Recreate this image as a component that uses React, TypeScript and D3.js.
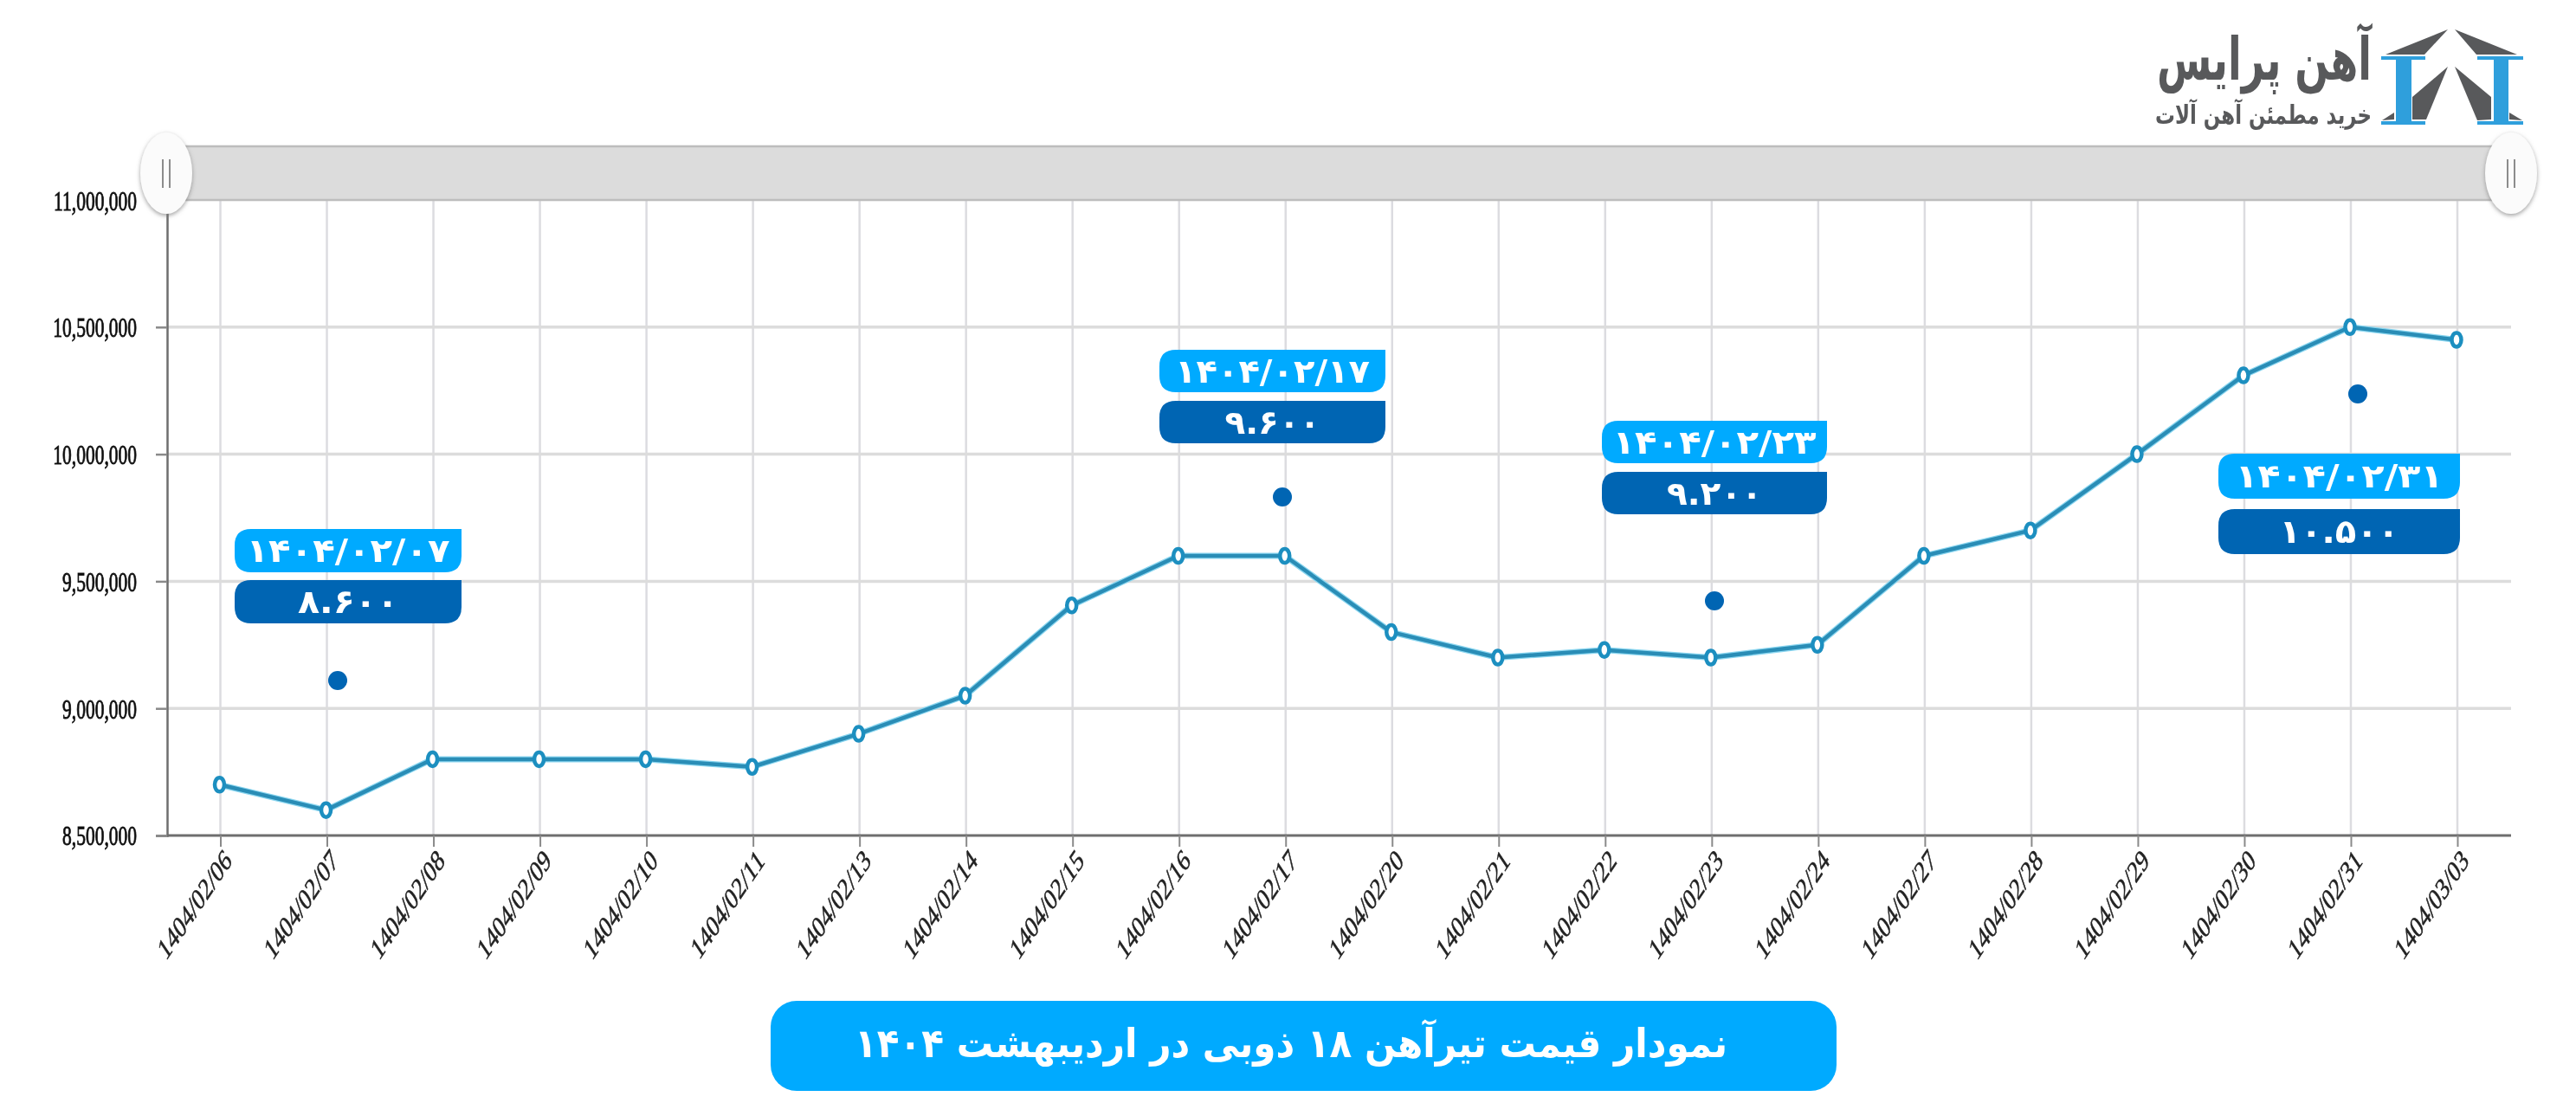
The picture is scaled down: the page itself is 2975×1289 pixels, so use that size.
import { useEffect, useRef } from 'react';
import * as d3 from 'd3';

const dates = [
  '1404/02/06', '1404/02/07', '1404/02/08', '1404/02/09', '1404/02/10', '1404/02/11',
  '1404/02/13', '1404/02/14', '1404/02/15', '1404/02/16', '1404/02/17', '1404/02/20',
  '1404/02/21', '1404/02/22', '1404/02/23', '1404/02/24', '1404/02/27', '1404/02/28',
  '1404/02/29', '1404/02/30', '1404/02/31', '1404/03/03',
];
const prices = [
  8700000, 8600000, 8800000, 8800000, 8800000, 8770000,
  8900000, 9050000, 9405000, 9600000, 9600000, 9300000,
  9200000, 9230000, 9200000, 9250000, 9600000, 9700000,
  10000000, 10310000, 10500000, 10450000,
];
const priceTicks = [8500000, 9000000, 9500000, 10000000, 10500000, 11000000];

const calloutDates = ['۱۴۰۴/۰۲/۰۷', '۱۴۰۴/۰۲/۱۷', '۱۴۰۴/۰۲/۲۳', '۱۴۰۴/۰۲/۳۱'];
const calloutPrices = ['۸.۶۰۰', '۹.۶۰۰', '۹.۲۰۰', '۱۰.۵۰۰'];

const title = 'نمودار قیمت تیرآهن ۱۸ ذوبی در اردیبهشت ۱۴۰۴';
const brandName = 'آهن پرایس';
const brandTagline = 'خرید مطمئن آهن آلات';

// layout of the annotation boxes
const calloutLayout = [
  { x: 271, w: 262, top1: 611, top2: 670, h: 50, dotX: 390, dotY: 786, textW: 235 },
  { x: 1339, w: 261, top1: 404, top2: 463, h: 49, dotX: 1481, dotY: 574, textW: 225 },
  { x: 1850, w: 260, top1: 486, top2: 545, h: 49, dotX: 1980, dotY: 694, textW: 235 },
  { x: 2562, w: 279, top1: 524, top2: 588, h: 52, dotX: 2723, dotY: 455, textW: 240 },
];
const calloutValueW = [116, 110, 110, 138];

const W = 2975;
const H = 1289;
const SANS = '"DejaVu Sans", sans-serif';
const SERIF = '"Liberation Serif", serif';
const LIGHT = '#00aaff';
const DARK = '#0065b3';
const LOGO_GRAY = '#58595b';
const LOGO_BLUE = '#2f9fdc';

function calloutPath(x: number, y: number, w: number, h: number, r: number) {
  return `M${x + r},${y}H${x + w}V${y + h - r}Q${x + w},${y + h} ${x + w - r},${y + h}H${x + r}Q${x},${y + h} ${x},${y + h - r}V${y + r}Q${x},${y} ${x + r},${y}Z`;
}

export default function App() {
  const svgRef = useRef<SVGSVGElement>(null);

  useEffect(() => {
    if (!svgRef.current) return;
    document.body.style.margin = '0';

    const svg = d3.select(svgRef.current);
    svg.selectAll('*').remove();

    const defs = svg.append('defs');
    const shadow = defs.append('filter').attr('id', 'handleShadow')
      .attr('x', '-30%').attr('y', '-30%').attr('width', '160%').attr('height', '160%');
    shadow.append('feDropShadow')
      .attr('dx', 0).attr('dy', 2).attr('stdDeviation', 2.5)
      .attr('flood-color', '#777').attr('flood-opacity', 0.7);
    defs.append('filter').attr('id', 'soft')
      .attr('x', '-2%').attr('y', '-2%').attr('width', '104%').attr('height', '104%')
      .append('feGaussianBlur').attr('stdDeviation', 0.7);

    const left = 193;
    const right = 2900;
    const plotTop = 231;
    const plotBottom = 965;

    const x = d3.scalePoint<string>().domain(dates).range([254.5, 2838]);
    const y = d3.scaleLinear().domain([8500000, 11000000]).range([plotBottom, plotTop]);

    const chart = svg.append('g').attr('filter', 'url(#soft)');

    // grid
    chart.append('g').selectAll('line').data(dates).join('line')
      .attr('x1', d => x(d)!).attr('x2', d => x(d)!)
      .attr('y1', plotTop).attr('y2', plotBottom)
      .attr('stroke', '#dcdce0').attr('stroke-width', 2.5);
    chart.append('g').selectAll('line').data(priceTicks.slice(1, -1)).join('line')
      .attr('x1', left).attr('x2', right)
      .attr('y1', d => y(d)).attr('y2', d => y(d))
      .attr('stroke', '#dcdcdc').attr('stroke-width', 3.5);

    // y axis
    const yAxis = chart.append('g')
      .attr('transform', `translate(${left},0)`)
      .call(d3.axisLeft(y).tickValues(priceTicks).tickFormat(d3.format(',')).tickSize(13).tickPadding(0));
    yAxis.select('.domain').attr('stroke', '#6e6e6e').attr('stroke-width', 2.5);
    yAxis.selectAll('.tick line').attr('stroke', '#8a8a8a').attr('stroke-width', 2.5);
    yAxis.selectAll<SVGTextElement, number>('text')
      .attr('x', null).attr('dy', null)
      .attr('transform', 'translate(-35,11) scale(1,1.42)')
      .attr('text-anchor', 'end')
      .style('font-family', SERIF)
      .style('font-size', '21.5px')
      .style('fill', '#111')
      .style('stroke', '#111')
      .style('stroke-width', 0.6);

    // x axis
    const xAxis = chart.append('g')
      .attr('transform', `translate(0,${plotBottom})`)
      .call(d3.axisBottom(x).tickSize(13));
    xAxis.select('.domain').attr('stroke', '#6e6e6e').attr('stroke-width', 3)
      .attr('d', `M${left},0H${right}`);
    xAxis.selectAll('.tick line').attr('stroke', '#8a8a8a').attr('stroke-width', 2);
    xAxis.selectAll<SVGTextElement, string>('text')
      .attr('y', null).attr('dy', null)
      .attr('transform', 'translate(14,31) scale(1,1.48) rotate(-45)')
      .attr('text-anchor', 'end')
      .style('font-family', SERIF)
      .style('font-size', '24px')
      .style('fill', '#222')
      .style('stroke', '#222')
      .style('stroke-width', 0.4);

    // range selector
    chart.append('rect')
      .attr('x', 205).attr('y', 169).attr('width', 2680).attr('height', 62)
      .attr('fill', '#dcdcdc').attr('stroke', '#bdbdbd').attr('stroke-width', 2.5);
    [192, 2900].forEach(cx => {
      chart.append('ellipse')
        .attr('cx', cx).attr('cy', 200).attr('rx', 30).attr('ry', 47)
        .attr('fill', '#fbfbfb').attr('filter', 'url(#handleShadow)');
      [-4, 4].forEach(off => {
        chart.append('line')
          .attr('x1', cx + off).attr('x2', cx + off)
          .attr('y1', 184).attr('y2', 217)
          .attr('stroke', '#8c8c8c').attr('stroke-width', 2);
      });
    });

    // price line
    const line = d3.line<number>().x((_, i) => x(dates[i])! - 1).y(d => y(d));
    chart.append('path').datum(prices)
      .attr('d', line)
      .attr('fill', 'none')
      .attr('stroke', '#8ad6f0')
      .attr('stroke-width', 7)
      .attr('stroke-linejoin', 'round');
    chart.append('path').datum(prices)
      .attr('d', line)
      .attr('fill', 'none')
      .attr('stroke', '#2b8db6')
      .attr('stroke-width', 4.5)
      .attr('stroke-linejoin', 'round');
    chart.append('g').selectAll('ellipse').data(prices).join('ellipse')
      .attr('cx', (_, i) => x(dates[i])! - 1)
      .attr('cy', d => y(d))
      .attr('rx', 5.5)
      .attr('ry', 8)
      .attr('fill', '#fff')
      .attr('stroke', '#1f8fc0')
      .attr('stroke-width', 4.5);

    // callouts
    calloutLayout.forEach((c, i) => {
      const g = svg.append('g');
      g.append('path').attr('d', calloutPath(c.x, c.top1, c.w, c.h, 19)).attr('fill', LIGHT);
      g.append('path').attr('d', calloutPath(c.x, c.top2, c.w, c.h, 19)).attr('fill', DARK);
      g.append('text')
        .attr('x', c.x + c.w / 2).attr('y', c.top1 + c.h / 2 + 13)
        .attr('text-anchor', 'middle')
        .attr('direction', 'ltr')
        .attr('textLength', c.textW).attr('lengthAdjust', 'spacingAndGlyphs')
        .style('font-family', SANS).style('font-weight', 700).style('font-size', '38px')
        .style('fill', '#fff')
        .text(calloutDates[i]);
      g.append('text')
        .attr('x', c.x + c.w / 2).attr('y', c.top2 + c.h / 2 + 13)
        .attr('text-anchor', 'middle')
        .attr('direction', 'ltr')
        .attr('textLength', calloutValueW[i]).attr('lengthAdjust', 'spacingAndGlyphs')
        .style('font-family', SANS).style('font-weight', 700).style('font-size', '38px')
        .style('fill', '#fff')
        .text(calloutPrices[i]);
      g.append('circle').attr('cx', c.dotX).attr('cy', c.dotY).attr('r', 11).attr('fill', DARK);
    });

    // title banner
    svg.append('rect')
      .attr('x', 890).attr('y', 1156).attr('width', 1231).attr('height', 104)
      .attr('rx', 30).attr('fill', LIGHT);
    svg.append('text')
      .attr('x', 1491).attr('y', 1221)
      .attr('text-anchor', 'middle')
      .attr('direction', 'rtl')
      .attr('textLength', 1008).attr('lengthAdjust', 'spacingAndGlyphs')
      .style('font-family', SANS).style('font-weight', 700).style('font-size', '46px')
      .style('fill', '#fff')
      .text(title);

    // logo
    const logo = svg.append('g');
    [
      '2827,34 2755,63 2800,63',
      '2835,34 2907,63 2860,63',
      '2827,77 2786,112 2786,138 2802,138',
      '2835,77 2877,112 2877,138 2861,139',
      '2765,130 2765,138 2751,139',
      '2898,130 2898,138 2913,139',
    ].forEach(p => logo.append('polygon').attr('points', p).attr('fill', LOGO_GRAY));
    [
      [2750, 2801, 2767, 2785],
      [2861, 2914, 2880, 2897],
    ].forEach(([fl, fr, wl, wr]) => {
      logo.append('rect').attr('x', fl).attr('y', 65).attr('width', fr - fl).attr('height', 4).attr('fill', LOGO_BLUE);
      logo.append('rect').attr('x', fl).attr('y', 140).attr('width', fr - fl).attr('height', 4).attr('fill', LOGO_BLUE);
      logo.append('rect').attr('x', wl).attr('y', 65).attr('width', wr - wl).attr('height', 79).attr('fill', LOGO_BLUE);
    });
    logo.append('text')
      .attr('x', 2615).attr('y', 92)
      .attr('text-anchor', 'middle').attr('direction', 'rtl')
      .attr('textLength', 248).attr('lengthAdjust', 'spacingAndGlyphs')
      .style('font-family', SANS).style('font-weight', 700).style('font-size', '68px')
      .style('fill', LOGO_GRAY)
      .text(brandName);
    logo.append('text')
      .attr('x', 2614).attr('y', 143)
      .attr('text-anchor', 'middle').attr('direction', 'rtl')
      .attr('textLength', 250).attr('lengthAdjust', 'spacingAndGlyphs')
      .style('font-family', SANS).style('font-weight', 700).style('font-size', '30px')
      .style('fill', LOGO_GRAY)
      .text(brandTagline);
  }, []);

  return <svg ref={svgRef} width={W} height={H} viewBox={`0 0 ${W} ${H}`} style={{ display: 'block', background: '#fff' }} />;
}
